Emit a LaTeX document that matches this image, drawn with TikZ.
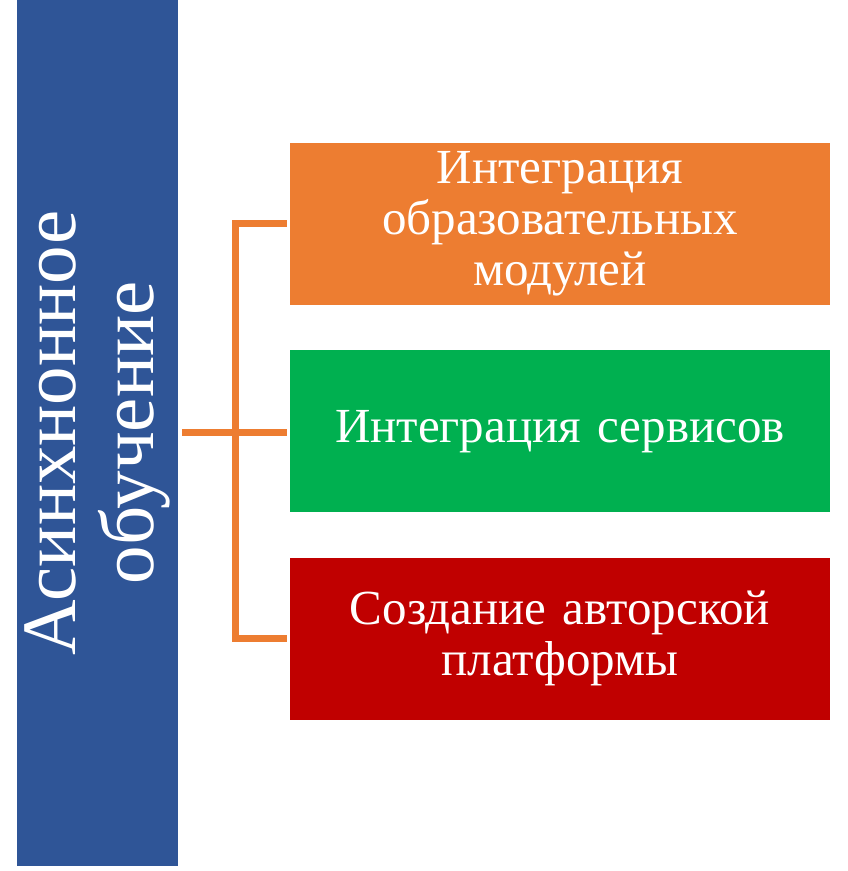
\documentclass[tikz,border=0pt]{standalone}
\usepackage{fontspec}
\setmainfont{Liberation Serif}
\usetikzlibrary{positioning}
\definecolor{barblue}{HTML}{2F5597}
\definecolor{boxorange}{HTML}{ED7D31}
\definecolor{boxgreen}{HTML}{00B050}
\definecolor{boxred}{HTML}{C00000}
\begin{document}
\begin{tikzpicture}[x=1pt, y=1pt, node distance=45pt,
    box/.style={rectangle, minimum width=540pt, minimum height=162pt, text width=520pt, align=center, text=white, font=\fontsize{49}{51}\selectfont, inner sep=0pt},
    link/.style={draw=boxorange, line width=7pt}]
    \useasboundingbox (0,0) rectangle (847,871);
    \node[fill=barblue, minimum width=161pt, minimum height=866pt, inner sep=0pt, anchor=south west] (bar) at (17,5) {};
    \node[rotate=90, text=white, align=center, font=\fontsize{77}{78}\selectfont] (title) at (bar.center) {Асинхнонное\\обучение};
    \node[box, fill=boxorange] (modules) at (560,647) {Интеграция\\образовательных\\модулей};
    \node[box, fill=boxgreen, below=of modules] (services) {Интеграция сервисов};
    \node[box, fill=boxred, below=of services] (platform) {Создание авторской\\платформы};
    \coordinate (hub) at (235,435);

    \draw[link] ([xshift=-3pt]modules.west) -| (hub) |- ([xshift=-3pt]platform.west);
    \draw[link] ([xshift=4pt]bar.east) -- ([xshift=-3pt]bar.east -| services.west);
\end{tikzpicture}
\end{document}
